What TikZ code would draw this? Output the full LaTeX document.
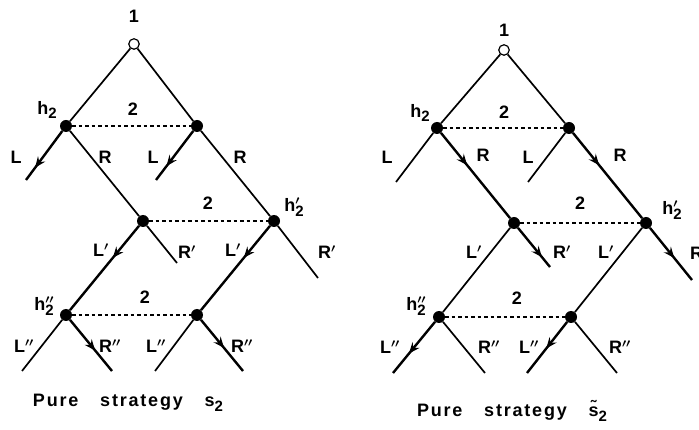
\documentclass[tikz,border=0pt]{standalone}
\usepackage{fontspec}
\setmainfont{Liberation Sans}
\newfontfamily\capfont[LetterSpace=10]{Liberation Sans}
\usetikzlibrary{arrows.meta,decorations.markings}
\newcommand\lblsize{\fontsize{18}{18}\bfseries}
\newcommand\subtwo{\raisebox{-4.5pt}{\fontsize{15}{15}\selectfont 2}}
\newcommand\hlab[1]{h\rlap{\raisebox{1pt}{$^{\boldsymbol{#1}}$}}\subtwo}
\newcommand\pr{$^{\boldsymbol{\prime}}$}
\newcommand\ppr{$^{\boldsymbol{\prime\prime}}$}
\usepackage{amsmath}
\begin{document}
\begin{tikzpicture}[x=1pt,y=-1pt,
 dot/.style={circle, fill=black, inner sep=0pt, minimum size=12pt},
 odot/.style={circle, draw=black, fill=white, line width=1.2pt, inner sep=0pt, minimum size=10.5pt},
 branch/.style={line width=1.7pt},
 chosen/.style={line width=2.4pt, postaction={decorate},
   decoration={markings, mark=at position #1 with {\arrow{Stealth[length=11pt,width=9pt,inset=4pt]}}}},
 info/.style={line width=1.2pt, dash pattern=on 3.5pt off 3pt},
 lbl/.style={font=\lblsize, inner sep=0pt},
 captext/.style={font=\capfont\fontsize{18}{18}\selectfont\bfseries, inner sep=0pt}]
\clip (0,0) rectangle (699,430);
\fill[white] (0,0) rectangle (699,430);
% ---------------- left tree ----------------
\node[odot] (r1) at (134,44) {};
\node[dot] (a1) at (66,126) {};
\node[dot] (b1) at (197,126) {};
\node[dot] (c1) at (143,221) {};
\node[dot] (d1) at (274,221) {};
\node[dot] (e1) at (66,315) {};
\node[dot] (f1) at (197,315) {};
\coordinate (a1l) at (26,180);
\coordinate (b1l) at (156,180);
\coordinate (c1r) at (177,263);
\coordinate (d1r) at (318,278);
\coordinate (e1l) at (22,371);
\coordinate (e1r) at (112,371);
\coordinate (f1l) at (155,371);
\coordinate (f1r) at (243,371);
\draw[branch] (r1) -- (a1);
\draw[branch] (r1) -- (b1);
\draw[info] (a1) -- (b1);
\draw[info] (c1) -- (d1);
\draw[info] (e1) -- (f1);
\draw[chosen=0.75] (a1) -- (a1l);
\draw[branch] (a1) -- (c1);
\draw[chosen=0.72] (b1) -- (b1l);
\draw[branch] (b1) -- (d1);
\draw[chosen=0.38] (c1) -- (e1);
\draw[branch] (c1) -- (c1r);
\draw[chosen=0.38] (d1) -- (f1);
\draw[branch] (d1) -- (d1r);
\draw[branch] (e1) -- (e1l);
\draw[chosen=0.6] (e1) -- (e1r);
\draw[branch] (f1) -- (f1l);
\draw[chosen=0.55] (f1) -- (f1r);
\node[lbl] (t1) at (134,16) {1};
\node[lbl] (th1) at (47,110) {\hlab{}};
\node[lbl] (ti1) at (133,109) {2};
\node[lbl] (tl1) at (16,157) {L};
\node[lbl] (tr1) at (105,157) {R};
\node[lbl] (tl2) at (153,157) {L};
\node[lbl] (tr2) at (240,157) {R};
\node[lbl] (ti2) at (208,203) {2};
\node[lbl] (th2) at (294,207) {\hlab{\prime}};
\node[lbl] (tl3) at (101,250) {L\pr};
\node[lbl] (tr3) at (187,252) {R\pr};
\node[lbl] (tl4) at (233,250) {L\pr};
\node[lbl] (tr4) at (327,252) {R\pr};
\node[lbl] (ti3) at (145,297) {2};
\node[lbl] (th3) at (44,306) {\hlab{\prime\prime}};
\node[lbl] (tl5) at (24,346) {L\ppr};
\node[lbl] (tr5) at (110,346) {R\ppr};
\node[lbl] (tl6) at (156,346) {L\ppr};
\node[lbl] (tr6) at (242,346) {R\ppr};
\node[captext] (cap1) at (128,403) {Pure\hspace{15pt} strategy\hspace{15pt} s\subtwo};
% ---------------- right tree ----------------
\node[odot] (r2) at (504,50) {};
\node[dot] (a2) at (437,128) {};
\node[dot] (b2) at (569,128) {};
\node[dot] (c2) at (514,223) {};
\node[dot] (d2) at (646,223) {};
\node[dot] (e2) at (439,317) {};
\node[dot] (f2) at (571,317) {};
\coordinate (a2l) at (396,182);
\coordinate (b2l) at (528,182);
\coordinate (c2r) at (550,267);
\coordinate (d2r) at (692,280);
\coordinate (e2l) at (393,373);
\coordinate (e2r) at (485,373);
\coordinate (f2l) at (527,373);
\coordinate (f2r) at (617,373);
\draw[branch] (r2) -- (a2);
\draw[branch] (r2) -- (b2);
\draw[info] (a2) -- (b2);
\draw[info] (c2) -- (d2);
\draw[info] (e2) -- (f2);
\draw[branch] (a2) -- (a2l);
\draw[chosen=0.38] (a2) -- (c2);
\draw[branch] (b2) -- (b2l);
\draw[chosen=0.38] (b2) -- (d2);
\draw[branch] (c2) -- (e2);
\draw[chosen=0.75] (c2) -- (c2r);
\draw[branch] (d2) -- (f2);
\draw[chosen=0.58] (d2) -- (d2r);
\draw[chosen=0.62] (e2) -- (e2l);
\draw[branch] (e2) -- (e2r);
\draw[chosen=0.52] (f2) -- (f2l);
\draw[branch] (f2) -- (f2r);
\node[lbl] (u1) at (504,30) {1};
\node[lbl] (uh1) at (420,113) {\hlab{}};
\node[lbl] (ui1) at (504,112) {2};
\node[lbl] (ul1) at (387,157) {L};
\node[lbl] (ur1) at (483,155) {R};
\node[lbl] (ul2) at (528,157) {L};
\node[lbl] (ur2) at (620,155) {R};
\node[lbl] (ui2) at (580,203) {2};
\node[lbl] (uh2) at (672,210) {\hlab{\prime}};
\node[lbl] (ul3) at (474,252) {L\pr};
\node[lbl] (ur3) at (562,252) {R\pr};
\node[lbl] (ul4) at (606,252) {L\pr};
\node[lbl, anchor=west] (ur4) at (690,253) {R\pr};
\node[lbl] (ui3) at (517,298) {2};
\node[lbl] (uh3) at (416,306) {\hlab{\prime\prime}};
\node[lbl] (ul5) at (390,347) {L\ppr};
\node[lbl] (ur5) at (489,347) {R\ppr};
\node[lbl] (ul6) at (529,347) {L\ppr};
\node[lbl] (ur6) at (620,347) {R\ppr};
\node[captext] (cap2) at (512,411) {Pure\hspace{15pt} strategy\hspace{15pt} \~{s}\subtwo};
\end{tikzpicture}
\end{document}
